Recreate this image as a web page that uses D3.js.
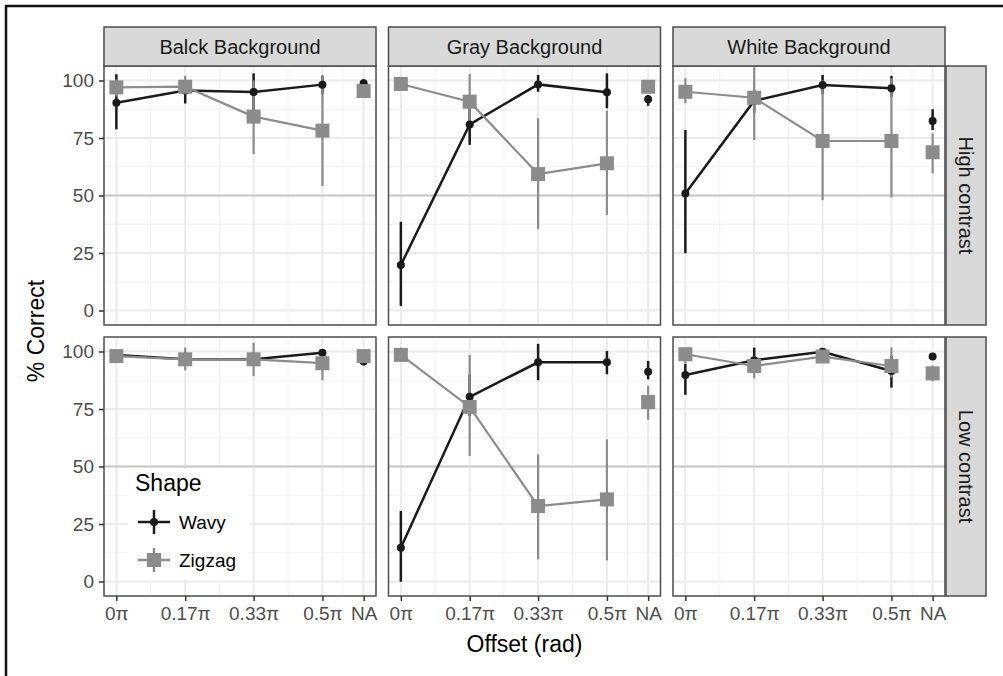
<!DOCTYPE html>
<html>
<head>
<meta charset="utf-8">
<script src="https://cdn.jsdelivr.net/npm/d3@7"></script>
<style>
  body { margin: 0; background: #fff; }
  text { font-family: "Liberation Sans", Arial, Helvetica, sans-serif; }
</style>
</head>
<body>
<script>
// facets
var backgrounds = ["Balck Background", "Gray Background", "White Background"];
var contrasts = ["High contrast", "Low contrast"];
var shapes = ["Wavy", "Zigzag"];

// x positions (in units of pi), last one is the NA slot
var offsets = [0, 0.167, 0.333, 0.5, 0.6];
var offsetLabels = ["0\u03c0", "0.17\u03c0", "0.33\u03c0", "0.5\u03c0", "NA"];
var yTicks = [0, 25, 50, 75, 100];

// % correct, one array per background / contrast / shape
var blackHighWavy      = [90.3, 95.6, 95.0, 98.2, 98.8];
var blackHighWavyLo    = [78.8, 90.0, 87.0, 94.0, 96.0];
var blackHighWavyHi    = [102.7, 100.0, 103.1, 102.0, 100.5];
var blackHighZigzag    = [97.0, 97.3, 84.3, 78.2, 95.4];
var blackHighZigzagLo  = [93.0, 94.0, 68.0, 54.1, 93.0];
var blackHighZigzagHi  = [100.5, 102.0, 100.0, 102.4, 97.5];

var grayHighWavy       = [19.8, 80.9, 98.3, 94.9, 91.8];
var grayHighWavyLo     = [2.0, 72.0, 95.1, 87.9, 89.0];
var grayHighWavyHi     = [38.6, 89.0, 102.4, 103.1, 93.7];
var grayHighZigzag     = [98.5, 90.8, 59.3, 64.0, 97.3];
var grayHighZigzagLo   = [96.0, 80.0, 35.3, 41.5, 95.0];
var grayHighZigzagHi   = [100.5, 102.8, 83.6, 86.9, 99.0];

var whiteHighWavy      = [50.9, 91.2, 98.0, 96.6, 82.4];
var whiteHighWavyLo    = [24.9, 86.0, 94.0, 93.0, 78.5];
var whiteHighWavyHi    = [78.5, 96.0, 102.4, 102.0, 87.5];
var whiteHighZigzag    = [95.1, 92.5, 73.7, 73.7, 68.8];
var whiteHighZigzagLo  = [90.1, 74.1, 48.0, 49.2, 59.6];
var whiteHighZigzagHi  = [101.0, 105.7, 100.0, 101.0, 77.0];

var blackLowWavy       = [98.5, 96.6, 96.6, 99.5, 95.6];
var blackLowWavyLo     = [96.5, 94.0, 94.0, 98.0, 94.0];
var blackLowWavyHi     = [100.0, 99.0, 99.0, 101.0, 97.0];
var blackLowZigzag     = [98.0, 96.6, 96.6, 94.9, 98.0];
var blackLowZigzagLo   = [95.5, 91.8, 89.3, 87.5, 96.0];
var blackLowZigzagHi   = [100.5, 101.7, 103.8, 101.0, 100.0];

var grayLowWavy        = [14.7, 80.3, 95.3, 95.3, 91.2];
var grayLowWavyLo      = [-0.1, 72.0, 87.5, 90.1, 87.9];
var grayLowWavyHi      = [30.7, 90.0, 103.3, 100.2, 95.9];
var grayLowZigzag      = [98.5, 75.9, 32.8, 35.7, 78.0];
var grayLowZigzagLo    = [96.0, 54.6, 9.6, 9.2, 70.3];
var grayLowZigzagHi    = [101.7, 98.5, 55.3, 61.8, 85.0];

var whiteLowWavy       = [89.8, 96.2, 99.9, 91.5, 97.8];
var whiteLowWavyLo     = [81.2, 91.0, 98.0, 84.3, 96.5];
var whiteLowWavyHi     = [94.7, 101.7, 101.5, 98.0, 99.0];
var whiteLowZigzag     = [98.8, 93.7, 97.8, 93.7, 90.5];
var whiteLowZigzagLo   = [95.0, 88.3, 95.5, 88.7, 87.0];
var whiteLowZigzagHi   = [101.7, 98.0, 100.0, 101.7, 94.0];

// panel table built from the arrays above: [contrast][background]
var panels = [
  [
    { wavy: [blackHighWavy, blackHighWavyLo, blackHighWavyHi], zigzag: [blackHighZigzag, blackHighZigzagLo, blackHighZigzagHi] },
    { wavy: [grayHighWavy, grayHighWavyLo, grayHighWavyHi], zigzag: [grayHighZigzag, grayHighZigzagLo, grayHighZigzagHi] },
    { wavy: [whiteHighWavy, whiteHighWavyLo, whiteHighWavyHi], zigzag: [whiteHighZigzag, whiteHighZigzagLo, whiteHighZigzagHi] }
  ],
  [
    { wavy: [blackLowWavy, blackLowWavyLo, blackLowWavyHi], zigzag: [blackLowZigzag, blackLowZigzagLo, blackLowZigzagHi] },
    { wavy: [grayLowWavy, grayLowWavyLo, grayLowWavyHi], zigzag: [grayLowZigzag, grayLowZigzagLo, grayLowZigzagHi] },
    { wavy: [whiteLowWavy, whiteLowWavyLo, whiteLowWavyHi], zigzag: [whiteLowZigzag, whiteLowZigzagLo, whiteLowZigzagHi] }
  ]
];

var colors = { Wavy: "#1a1a1a", Zigzag: "#8c8c8c" };

// layout
var width = 1003, height = 676;
var panelLeft = 104, panelTop = 66;
var pw = 272, ph = 259;
var colStep = 284.5, rowStep = 271;

var svg = d3.select("body").append("svg")
  .attr("width", width)
  .attr("height", height);

svg.append("rect").attr("width", width).attr("height", height).attr("fill", "#fff");

// outer frame (left and top edges only)
svg.append("path")
  .attr("d", "M6,676 L6,6 L1003,6")
  .attr("fill", "none")
  .attr("stroke", "#111")
  .attr("stroke-width", 2.5);

var x = d3.scaleLinear().domain([-0.03, 0.63]).range([0, pw]);
var y = d3.scaleLinear().domain([-6.3, 106.3]).range([ph, 0]);

var xMinor = [0.0835, 0.25, 0.4165, 0.55];
var yMinor = [12.5, 37.5, 62.5, 87.5];

var line = d3.line()
  .x(function(d) { return x(d.x); })
  .y(function(d) { return y(d.y); });

function seriesPoints(arr) {
  return arr[0].map(function(v, i) {
    return { x: offsets[i], y: v, lo: arr[1][i], hi: arr[2][i], na: i === offsets.length - 1 };
  });
}

contrasts.forEach(function(contrast, r) {
  backgrounds.forEach(function(bg, c) {
    var g = svg.append("g")
      .attr("transform", "translate(" + (panelLeft + c * colStep) + "," + (panelTop + r * rowStep) + ")");

    // grid
    g.selectAll(".xminor").data(xMinor).enter().append("line")
      .attr("x1", x).attr("x2", x).attr("y1", 0).attr("y2", ph)
      .attr("stroke", "#f2f2f2").attr("stroke-width", 1);
    g.selectAll(".yminor").data(yMinor).enter().append("line")
      .attr("y1", y).attr("y2", y).attr("x1", 0).attr("x2", pw)
      .attr("stroke", "#f2f2f2").attr("stroke-width", 1);
    g.selectAll(".xmajor").data(offsets).enter().append("line")
      .attr("x1", x).attr("x2", x).attr("y1", 0).attr("y2", ph)
      .attr("stroke", "#ebebeb").attr("stroke-width", 2);
    g.selectAll(".ymajor").data(yTicks).enter().append("line")
      .attr("y1", y).attr("y2", y).attr("x1", 0).attr("x2", pw)
      .attr("stroke", "#ebebeb").attr("stroke-width", 2);

    // chance level
    g.append("line")
      .attr("x1", 0).attr("x2", pw).attr("y1", y(50)).attr("y2", y(50))
      .attr("stroke", "#c8c8c8").attr("stroke-width", 2);

    var p = panels[r][c];
    var series = [
      { name: "Wavy", pts: seriesPoints(p.wavy) },
      { name: "Zigzag", pts: seriesPoints(p.zigzag) }
    ];

    // error bars
    series.forEach(function(s) {
      g.selectAll(null).data(s.pts).enter().append("line")
        .attr("x1", function(d) { return x(d.x); })
        .attr("x2", function(d) { return x(d.x); })
        .attr("y1", function(d) { return y(d.lo); })
        .attr("y2", function(d) { return y(d.hi); })
        .attr("stroke", colors[s.name])
        .attr("stroke-width", s.name === "Wavy" ? 2.5 : 2.2);
    });

    // lines (NA slot not connected)
    series.forEach(function(s) {
      g.append("path")
        .datum(s.pts.filter(function(d) { return !d.na; }))
        .attr("d", line)
        .attr("fill", "none")
        .attr("stroke", colors[s.name])
        .attr("stroke-width", s.name === "Wavy" ? 2.5 : 2.2);
    });

    // points
    series.forEach(function(s) {
      if (s.name === "Wavy") {
        g.selectAll(null).data(s.pts).enter().append("circle")
          .attr("cx", function(d) { return x(d.x); })
          .attr("cy", function(d) { return y(d.y); })
          .attr("r", 4)
          .attr("fill", colors.Wavy);
      } else {
        g.selectAll(null).data(s.pts).enter().append("rect")
          .attr("x", function(d) { return x(d.x) - 7; })
          .attr("y", function(d) { return y(d.y) - 7; })
          .attr("width", 14).attr("height", 14)
          .attr("fill", colors.Zigzag);
      }
    });

    // panel border
    g.append("rect")
      .attr("width", pw).attr("height", ph)
      .attr("fill", "none").attr("stroke", "#4d4d4d").attr("stroke-width", 1.5);

    // top strip
    if (r === 0) {
      g.append("rect")
        .attr("y", -39).attr("width", pw).attr("height", 39)
        .attr("fill", "#d9d9d9").attr("stroke", "#4d4d4d").attr("stroke-width", 1.5);
      g.append("text")
        .attr("x", pw / 2).attr("y", -19.5).attr("dy", "0.36em")
        .attr("text-anchor", "middle")
        .attr("font-size", 20).attr("fill", "#1a1a1a")
        .text(bg);
    }

    // right strip
    if (c === backgrounds.length - 1) {
      g.append("rect")
        .attr("x", pw + 1).attr("width", 40).attr("height", ph)
        .attr("fill", "#d9d9d9").attr("stroke", "#4d4d4d").attr("stroke-width", 1.5);
      g.append("text")
        .attr("transform", "translate(" + (pw + 21) + "," + (ph / 2) + ") rotate(90)")
        .attr("dy", "0.36em")
        .attr("text-anchor", "middle")
        .attr("font-size", 20).attr("fill", "#1a1a1a")
        .text(contrast);
    }

    // axes
    if (c === 0) {
      var ya = g.append("g")
        .call(d3.axisLeft(y).tickValues(yTicks).tickSize(5).tickPadding(5));
      ya.select(".domain").remove();
      ya.selectAll("line").attr("stroke", "#333").attr("stroke-width", 1.5);
      ya.selectAll("text").attr("font-size", 19).attr("fill", "#4d4d4d")
        .attr("font-family", "Liberation Sans, Arial, sans-serif");
    }
    if (r === contrasts.length - 1) {
      var xa = g.append("g")
        .attr("transform", "translate(0," + ph + ")")
        .call(d3.axisBottom(x).tickValues(offsets)
          .tickFormat(function(d, i) { return offsetLabels[i]; })
          .tickSize(5).tickPadding(6));
      xa.select(".domain").remove();
      xa.selectAll("line").attr("stroke", "#333").attr("stroke-width", 1.5);
      xa.selectAll("text").attr("font-size", 19).attr("fill", "#4d4d4d")
        .attr("font-family", "Liberation Sans, Arial, sans-serif");
    }
  });
});

// axis titles
svg.append("text")
  .attr("x", panelLeft + (2 * colStep + pw) / 2)
  .attr("y", 652)
  .attr("text-anchor", "middle")
  .attr("font-size", 23).attr("fill", "#000")
  .text("Offset (rad)");

svg.append("text")
  .attr("transform", "translate(44," + (panelTop + (rowStep + ph) / 2) + ") rotate(-90)")
  .attr("text-anchor", "middle")
  .attr("font-size", 23).attr("fill", "#000")
  .text("% Correct");

// legend
var legend = svg.append("g").attr("transform", "translate(128,469)");
legend.append("rect")
  .attr("width", 122).attr("height", 110)
  .attr("fill", "#fff");
legend.append("text")
  .attr("x", 7).attr("y", 22)
  .attr("font-size", 23).attr("fill", "#000")
  .text("Shape");

shapes.forEach(function(s, i) {
  var ky = 53 + i * 38;
  var k = legend.append("g").attr("transform", "translate(26," + ky + ")");
  k.append("line").attr("x1", 0).attr("x2", 0).attr("y1", -12).attr("y2", 12)
    .attr("stroke", colors[s]).attr("stroke-width", 2.5);
  k.append("line").attr("x1", -16).attr("x2", 16).attr("y1", 0).attr("y2", 0)
    .attr("stroke", colors[s]).attr("stroke-width", 2.5);
  if (s === "Wavy") {
    k.append("circle").attr("r", 4).attr("fill", colors[s]);
  } else {
    k.append("rect").attr("x", -7).attr("y", -7).attr("width", 14).attr("height", 14)
      .attr("fill", colors[s]);
  }
  legend.append("text")
    .attr("x", 51).attr("y", ky).attr("dy", "0.36em")
    .attr("font-size", 19).attr("fill", "#000")
    .text(s);
});
</script>
</body>
</html>
